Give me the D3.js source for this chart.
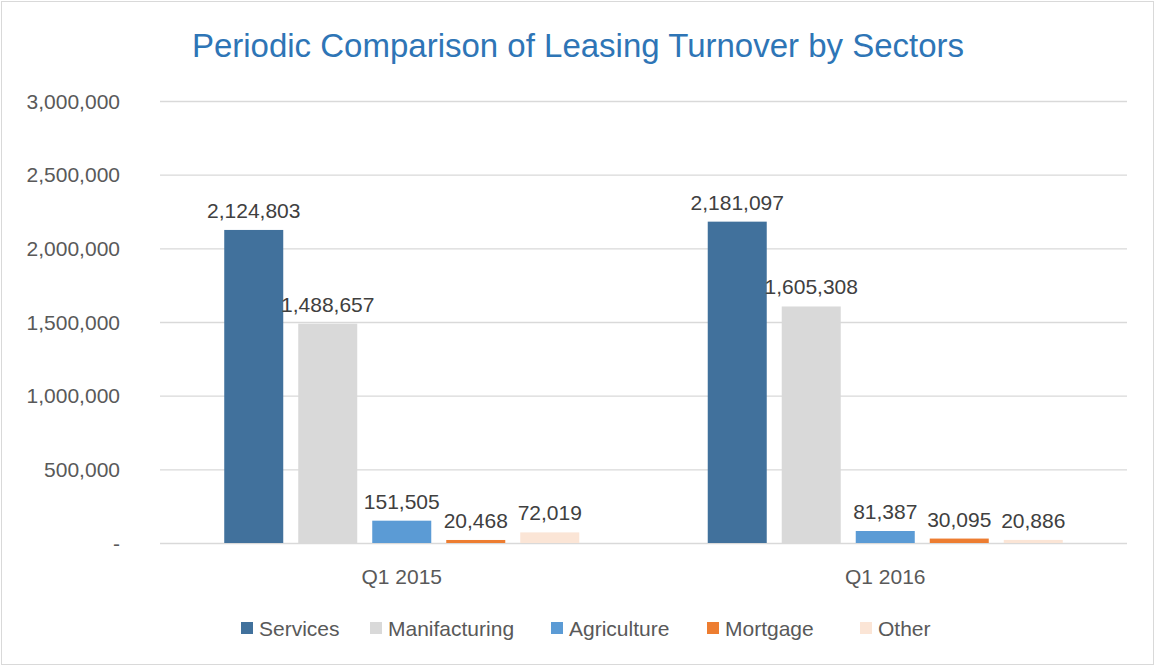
<!DOCTYPE html>
<html>
<head>
<meta charset="utf-8">
<script src="https://cdn.jsdelivr.net/npm/d3@7"></script>
<style>
  html, body { margin: 0; padding: 0; background: #fff; }
  svg { display: block; }
  text { font-family: "Liberation Sans", Arial, sans-serif; }
</style>
</head>
<body>
<div id="chart"></div>
<script>
// Leasing turnover by sector for two quarters
const periods = ["Q1 2015", "Q1 2016"];
const sectors = ["Services", "Manifacturing", "Agriculture", "Mortgage", "Other"];
const services      = [2124803, 2181097];
const manufacturing = [1488657, 1605308];
const agriculture   = [151505, 81387];
const mortgage      = [20468, 30095];
const other         = [72019, 20886];
const sectorColors  = ["#41719C", "#D9D9D9", "#5B9BD5", "#ED7D31", "#FBE5D6"];
const yTicks        = [0, 500000, 1000000, 1500000, 2000000, 2500000, 3000000];

const seriesValues = [services, manufacturing, agriculture, mortgage, other];

const W = 1155, H = 666;
const plot = { left: 160, right: 1127, top: 101, bottom: 543 };

const svg = d3.select("#chart").append("svg")
  .attr("width", W).attr("height", H);

// chart frame
svg.append("rect")
  .attr("x", 1.5).attr("y", 1.5)
  .attr("width", W - 3).attr("height", H - 3)
  .attr("fill", "#fff").attr("stroke", "#D9D9D9").attr("stroke-width", 1);

// title
svg.append("text")
  .attr("x", 578).attr("y", 57)
  .attr("text-anchor", "middle")
  .attr("fill", "#2E75B6")
  .attr("font-size", 33)
  .text("Periodic Comparison of Leasing Turnover by Sectors");

const y = d3.scaleLinear().domain([0, 3000000]).range([plot.bottom, plot.top]);
const x0 = d3.scaleBand().domain(periods).range([plot.left, plot.right]);
const x1 = d3.scaleBand().domain(sectors).range([0, x0.bandwidth()])
  .paddingInner(0.2027).paddingOuter(0.868);
const color = d3.scaleOrdinal().domain(sectors).range(sectorColors);

const fmt = d3.format(",");
const tickFmt = v => v === 0 ? "-" : fmt(v);

// gridlines
const yAxis = d3.axisLeft(y).tickValues(yTicks).tickSize(-(plot.right - plot.left)).tickFormat("");
const grid = svg.append("g").attr("transform", `translate(${plot.left},0)`).call(yAxis);
grid.select(".domain").remove();
grid.selectAll(".tick line").attr("stroke", "#D9D9D9").attr("stroke-width", 1.3);

// y tick labels
svg.append("g").selectAll("text")
  .data(yTicks).join("text")
  .attr("x", 120)
  .attr("y", d => y(d))
  .attr("dy", "0.36em")
  .attr("text-anchor", "end")
  .attr("fill", "#595959")
  .attr("font-size", 21)
  .text(tickFmt);

// bars
const rows = periods.map((p, i) => sectors.map((s, j) => ({ period: p, sector: s, value: seriesValues[j][i] })));

const groups = svg.append("g").selectAll("g")
  .data(rows).join("g")
  .attr("transform", (d, i) => `translate(${x0(periods[i])},0)`);

groups.selectAll("rect")
  .data(d => d).join("rect")
  .attr("x", d => x1(d.sector))
  .attr("width", x1.bandwidth())
  .attr("y", d => y(d.value))
  .attr("height", d => y(0) - y(d.value))
  .attr("fill", d => color(d.sector));

groups.selectAll("text")
  .data(d => d).join("text")
  .attr("x", d => x1(d.sector) + x1.bandwidth() / 2)
  .attr("y", d => y(d.value) - 12)
  .attr("text-anchor", "middle")
  .attr("fill", "#404040")
  .attr("font-size", 21)
  .text(d => fmt(d.value));

// category labels
svg.append("g").selectAll("text")
  .data(periods).join("text")
  .attr("x", d => x0(d) + x0.bandwidth() / 2)
  .attr("y", 584)
  .attr("text-anchor", "middle")
  .attr("fill", "#595959")
  .attr("font-size", 21)
  .text(d => d);

// legend
const legendX = [241, 370, 551, 707, 860];
const legend = svg.append("g").selectAll("g")
  .data(sectors).join("g")
  .attr("transform", (d, i) => `translate(${legendX[i]},628)`);
legend.append("rect")
  .attr("x", 0).attr("y", -6).attr("width", 12).attr("height", 12)
  .attr("fill", d => color(d));
legend.append("text")
  .attr("x", 18).attr("y", 0).attr("dy", "0.36em")
  .attr("fill", "#595959")
  .attr("font-size", 21)
  .text(d => d);
</script>
</body>
</html>
